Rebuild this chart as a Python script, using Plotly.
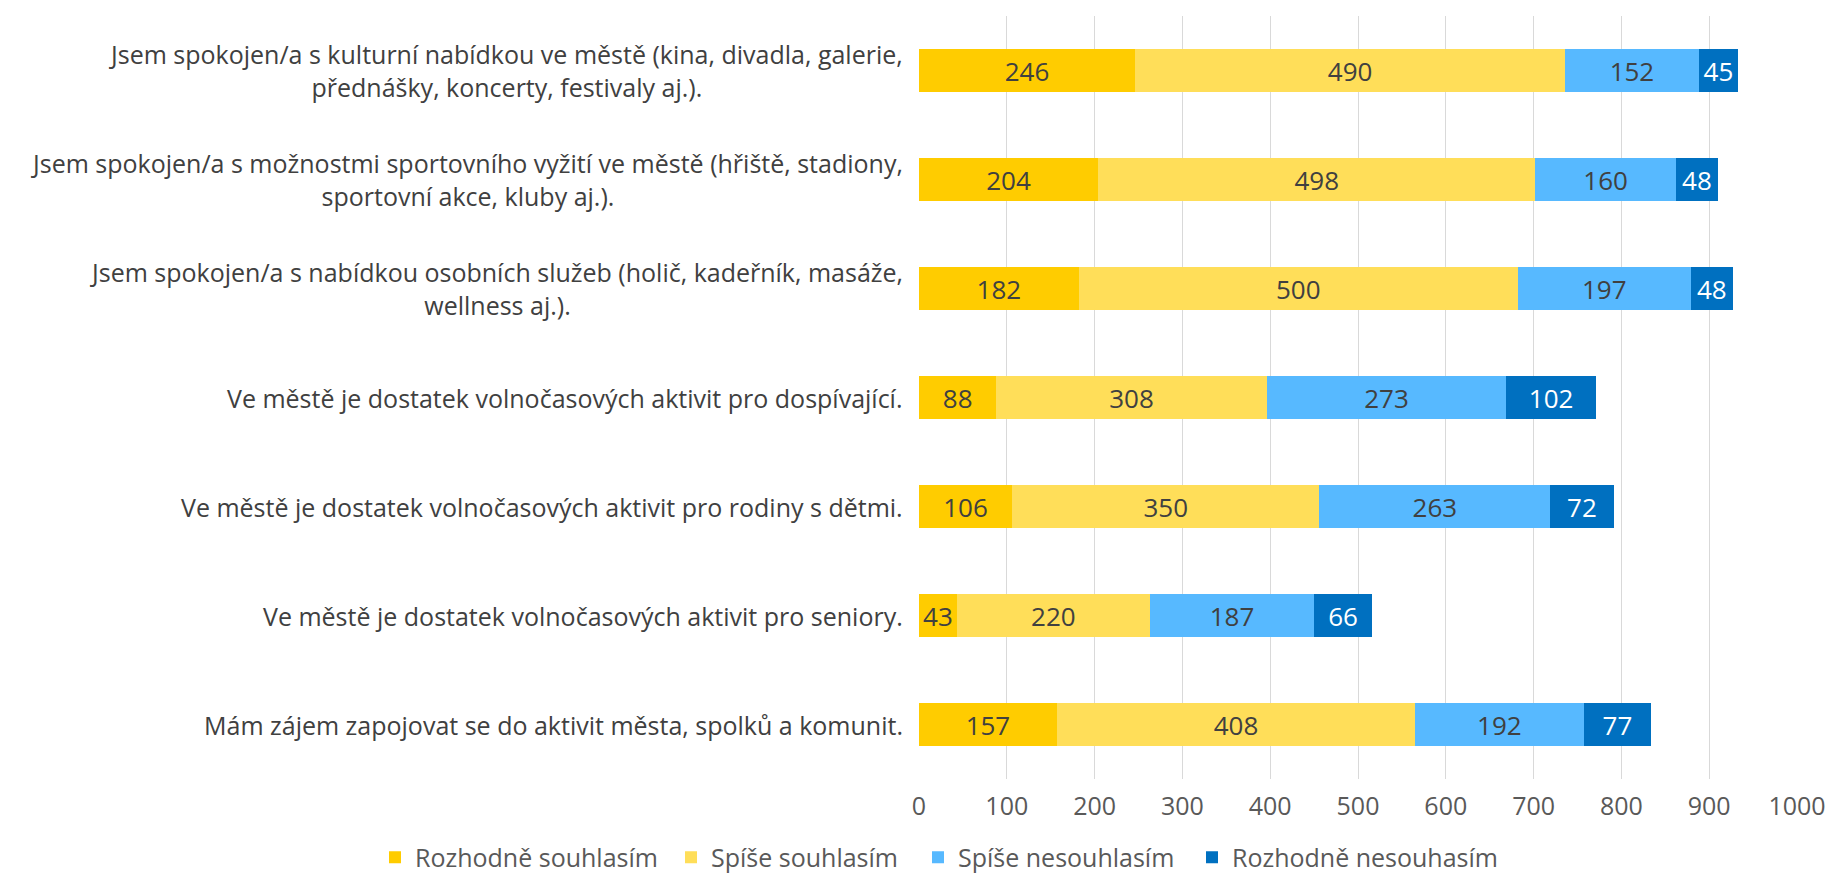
import plotly.graph_objects as go

categories = [
    "Jsem spokojen/a s kulturní nabídkou ve městě (kina, divadla, galerie,<br>přednášky, koncerty, festivaly aj.).",
    "Jsem spokojen/a s možnostmi sportovního vyžití ve městě (hřiště, stadiony,<br>sportovní akce, kluby aj.).",
    "Jsem spokojen/a s nabídkou osobních služeb (holič, kadeřník, masáže,<br>wellness aj.).",
    "Ve městě je dostatek volnočasových aktivit pro dospívající.",
    "Ve městě je dostatek volnočasových aktivit pro rodiny s dětmi.",
    "Ve městě je dostatek volnočasových aktivit pro seniory.",
    "Mám zájem zapojovat se do aktivit města, spolků a komunit.",
]
rozhodne_souhlasim = [246, 204, 182, 88, 106, 43, 157]
spise_souhlasim = [490, 498, 500, 308, 350, 220, 408]
spise_nesouhlasim = [152, 160, 197, 273, 263, 187, 192]
rozhodne_nesouhlasim = [45, 48, 48, 102, 72, 66, 77]
series_names = ["Rozhodně souhlasím", "Spíše souhlasím", "Spíše nesouhlasím", "Rozhodně nesouhasím"]
x_ticks = [0, 100, 200, 300, 400, 500, 600, 700, 800, 900, 1000]

colors = ["#FFCC00", "#FFDE59", "#57B9FF", "#0070C0"]
text_colors = ["#404040", "#404040", "#404040", "#FFFFFF"]
legend_ids = ["legend", "legend2", "legend3", "legend4"]
legend_left_px = [375, 671, 918, 1192]
FONT = "Open Sans, Roboto, sans-serif"
W, H = 1838, 875

fig = go.Figure()
for name, vals, c, tc, lid in zip(series_names,
                                  [rozhodne_souhlasim, spise_souhlasim, spise_nesouhlasim, rozhodne_nesouhlasim],
                                  colors, text_colors, legend_ids):
    fig.add_trace(go.Bar(
        y=categories, x=vals, name=name, orientation="h", legend=lid, showlegend=True,
        marker=dict(color=c, line=dict(width=0)),
        text=vals, textposition="inside", insidetextanchor="middle",
        textfont=dict(color=tc, size=26, family=FONT),
        constraintext="none", cliponaxis=False,
    ))

for cat in categories:
    fig.add_annotation(
        x=0, xref="paper", y=cat, yref="y", text=cat,
        xanchor="right", yanchor="middle", align="center", xshift=-14,
        showarrow=False, font=dict(size=25, color="#404040", family=FONT),
    )

legend_common = dict(orientation="h", xref="container", yref="container", y=0.02,
                     xanchor="left", yanchor="middle",
                     font=dict(size=25, color="#595959", family=FONT),
                     bgcolor="rgba(0,0,0,0)")
legends = {lid: dict(legend_common, x=px / W) for lid, px in zip(legend_ids, legend_left_px)}

fig.update_layout(
    barmode="stack",
    bargap=0.61,
    width=W, height=H,
    showlegend=True,
    margin=dict(l=919, r=35, t=16, b=96),
    paper_bgcolor="white", plot_bgcolor="white",
    font=dict(family=FONT, color="#595959", size=25),
    xaxis=dict(range=[0, 1000], tickvals=x_ticks, showgrid=True, gridcolor="#D9D9D9",
               gridwidth=1, zeroline=False, showline=False, ticks="",
               tickfont=dict(size=25, color="#595959", family=FONT), ticklabelstandoff=10),
    yaxis=dict(categoryorder="array", categoryarray=categories, autorange="reversed",
               showticklabels=False, showgrid=False, zeroline=False, ticks=""),
    **legends,
)

fig.write_html("out.html", post_script="document.body.style.margin='0';",
               config={"displayModeBar": False})
